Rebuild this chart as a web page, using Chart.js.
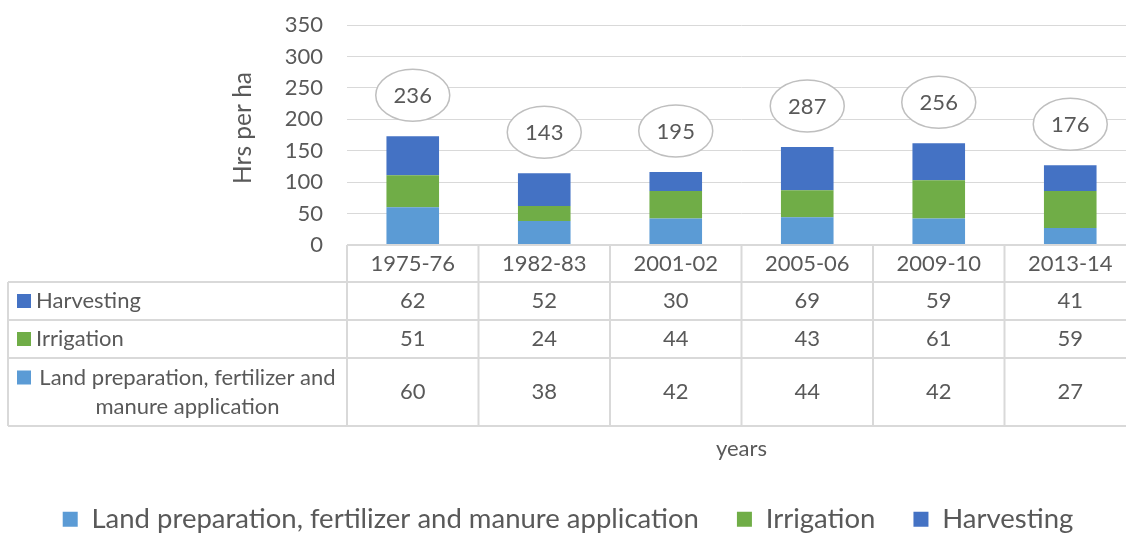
<!DOCTYPE html>
<html>
<head>
<meta charset="utf-8">
<script src="https://cdn.jsdelivr.net/npm/chart.js@4.4.1/dist/chart.umd.min.js"></script>
<style>
  html, body { margin: 0; padding: 0; background: #fff; overflow: hidden; }
  #wrap { width: 1140px; height: 543px; position: relative; }
</style>
</head>
<body>
<div id="wrap"><canvas id="myChart"></canvas></div>
<script>
const categories = ["1975-76", "1982-83", "2001-02", "2005-06", "2009-10", "2013-14"];
const landPrep = [60, 38, 42, 44, 42, 27];
const irrigation = [51, 24, 44, 43, 61, 59];
const harvesting = [62, 52, 30, 69, 59, 41];
const totals = [236, 143, 195, 287, 256, 176];
const yMax = 350;
const yStep = 50;

const landLabel = "Land preparation, fertilizer and manure application";
const colors = { land: "#5b9bd5", irrigation: "#70ad47", harvesting: "#4472c4" };

const textColor = "#595959";
const fontFamily = "Lato, 'Open Sans', sans-serif";
const plotBottom = 245;

// rows of the data table, top to bottom
const tableRows = [
  { label: "Harvesting", data: harvesting, color: colors.harvesting },
  { label: "Irrigation", data: irrigation, color: colors.irrigation },
  { label: landLabel, data: landPrep, color: colors.land },
];

function wrapText(ctx, text, maxWidth) {
  const words = text.split(" ");
  const lines = [];
  let line = "";
  words.forEach((w) => {
    const test = line ? line + " " + w : w;
    if (ctx.measureText(test).width > maxWidth && line) {
      lines.push(line);
      line = w;
    } else {
      line = test;
    }
  });
  if (line) lines.push(line);
  return lines;
}

// ellipse callouts with totals + the data table under the plot
const tablePlugin = {
  id: "dataTable",
  afterDatasetsDraw(chart) {
    const { ctx } = chart;
    const topMeta = chart.getDatasetMeta(2);
    ctx.save();
    topMeta.data.forEach((bar, i) => {
      const cx = bar.x;
      const cy = bar.y - 41;
      ctx.beginPath();
      ctx.ellipse(cx, cy, 37, 26, 0, 0, Math.PI * 2);
      ctx.fillStyle = "#ffffff";
      ctx.fill();
      ctx.lineWidth = 1.5;
      ctx.strokeStyle = "#bfbfbf";
      ctx.stroke();
      ctx.fillStyle = textColor;
      ctx.font = "22px " + fontFamily;
      ctx.textAlign = "center";
      ctx.textBaseline = "middle";
      ctx.fillText(String(totals[i]), cx, cy + 1);
    });
    ctx.restore();
  },
  afterDraw(chart) {
    const { ctx, chartArea } = chart;
    const xScale = chart.scales.x;
    const colW = (chartArea.right - chartArea.left) / categories.length;
    const top = chartArea.bottom;
    const rowEdges = [top, top + 37, top + 75, top + 113, top + 181];
    const tableLeft = 8;

    ctx.save();
    // y axis title
    ctx.save();
    ctx.translate(243, 128);
    ctx.rotate(-Math.PI / 2);
    ctx.font = "24.5px " + fontFamily;
    ctx.fillStyle = textColor;
    ctx.textAlign = "center";
    ctx.textBaseline = "middle";
    ctx.fillText("Hrs per ha", 0, 0);
    ctx.restore();

    ctx.strokeStyle = "#d9d9d9";
    ctx.lineWidth = 2;
    ctx.beginPath();
    ctx.moveTo(chartArea.left, rowEdges[0]);
    ctx.lineTo(chartArea.right, rowEdges[0]);
    for (let r = 1; r < rowEdges.length; r++) {
      ctx.moveTo(tableLeft, rowEdges[r]);
      ctx.lineTo(chartArea.right, rowEdges[r]);
    }
    for (let c = 0; c <= categories.length; c++) {
      const x = chartArea.left + c * colW;
      ctx.moveTo(x, rowEdges[0]);
      ctx.lineTo(x, rowEdges[rowEdges.length - 1]);
    }
    ctx.moveTo(tableLeft, rowEdges[1]);
    ctx.lineTo(tableLeft, rowEdges[rowEdges.length - 1]);
    ctx.stroke();

    ctx.font = "22px " + fontFamily;
    ctx.fillStyle = textColor;
    ctx.textBaseline = "middle";
    ctx.textAlign = "center";

    // category header row
    categories.forEach((cat, i) => {
      ctx.fillText(cat, xScale.getPixelForValue(i), (rowEdges[0] + rowEdges[1]) / 2);
    });

    // series rows
    tableRows.forEach((row, r) => {
      const y0 = rowEdges[r + 1];
      const y1 = rowEdges[r + 2];
      const mid = (y0 + y1) / 2;
      ctx.textAlign = "center";
      ctx.fillStyle = textColor;
      row.data.forEach((v, i) => {
        ctx.fillText(String(v), xScale.getPixelForValue(i), mid);
      });

      const lines = wrapText(ctx, row.label, chartArea.left - 40);
      const lineH = 29;
      const firstY = mid - ((lines.length - 1) * lineH) / 2;
      ctx.fillStyle = row.color;
      ctx.fillRect(17, firstY - 7, 14, 14);
      ctx.fillStyle = textColor;
      if (lines.length === 1) {
        ctx.textAlign = "left";
        ctx.fillText(lines[0], 36, mid);
      } else {
        ctx.textAlign = "center";
        const cx = (36 + chartArea.left - 8) / 2;
        lines.forEach((ln, k) => ctx.fillText(ln, cx, firstY + k * lineH));
      }
    });

    // axis title under the table
    ctx.textAlign = "center";
    ctx.fillText("years", (chartArea.left + chartArea.right) / 2, 449);
    ctx.restore();
  },
};

const ctx = document.getElementById("myChart").getContext("2d");

new Chart(ctx, {
  type: "bar",
  data: {
    labels: categories,
    datasets: [
      { label: landLabel, data: landPrep, backgroundColor: colors.land },
      { label: "Irrigation", data: irrigation, backgroundColor: colors.irrigation },
      { label: "Harvesting", data: harvesting, backgroundColor: colors.harvesting },
    ],
  },
  options: {
    responsive: true,
    maintainAspectRatio: false,
    animation: false,
    layout: { padding: { top: 25, right: 4, left: 0, bottom: 0 } },
    datasets: {
      bar: { categoryPercentage: 0.4, barPercentage: 1 },
    },
    scales: {
      x: {
        stacked: true,
        grid: { display: false },
        border: { display: false },
        ticks: { display: false },
        afterFit(scale) {
          const leg = scale.chart.legend;
          scale.height = scale.chart.height - (leg ? leg.height : 0) - plotBottom;
        },
      },
      y: {
        stacked: true,
        min: 0,
        max: yMax,
        ticks: {
          stepSize: yStep,
          padding: 2,
          color: textColor,
          font: { family: fontFamily, size: 22 },
        },
        grid: {
          color: "#d9d9d9",
          lineWidth: 1,
          drawTicks: true,
          tickLength: 22,
          tickColor: "rgba(0,0,0,0)",
        },
        border: { display: false },
        afterFit(scale) {
          scale.width = 347;
        },
      },
    },
    plugins: {
      legend: {
        position: "bottom",
        labels: {
          boxWidth: 15,
          boxHeight: 15,
          padding: 38,
          color: textColor,
          font: { family: fontFamily, size: 27.5 },
        },
      },
      tooltip: { enabled: false },
    },
  },
  plugins: [tablePlugin],
});
</script>
</body>
</html>
